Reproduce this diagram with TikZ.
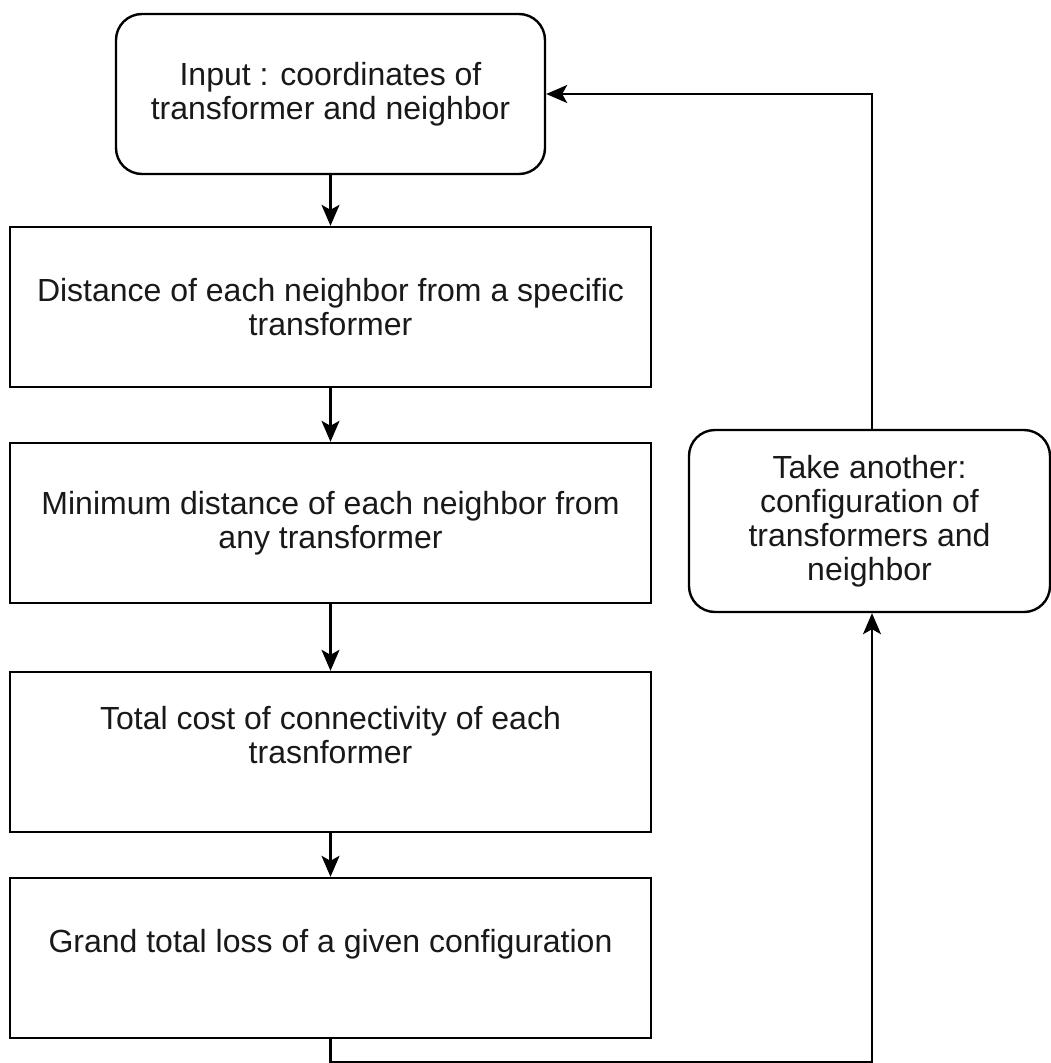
\documentclass[tikz,border=0pt]{standalone}
\usepackage{fontspec}
\setmainfont{Liberation Sans}
\usetikzlibrary{arrows.meta}
\begin{document}
\begin{tikzpicture}[x=1pt,y=-1pt,
  box/.style={draw, line width=2.4pt, align=center, text=black!90,
    font=\fontsize{32}{34}\selectfont, inner sep=0pt,
    minimum width=641pt, minimum height=160pt},
  rbox/.style={box, rounded corners=26pt},
  conn/.style={line width=2.2pt, -{Stealth[length=21pt,width=18pt,inset=5pt]}}]
\useasboundingbox[fill=white] (0,0) rectangle (1051,1063);
\node[rbox, minimum width=429pt, minimum height=160pt] (inp) at (330.5,94)
  {Input : coordinates of\\transformer and neighbor};
\node[box] (dist) at (330.5,307)
  {Distance of each neighbor from a specific\\transformer};
\node[box] (mind) at (330.5,523)
  {Minimum distance of each neighbor from\\any transformer};
\node[box] (cost) at (330.5,752)
  {Total cost of connectivity of each\\trasnformer\\\mbox{}};
\node[box] (loss) at (330.5,958)
  {Grand total loss of a given configuration\\\mbox{}};
\node[rbox, minimum width=361pt, minimum height=182pt] (take) at (869.5,521)
  {Take another:\\configuration of\\transformers and\\neighbor};
\coordinate (cr) at (872,1062);
\draw[conn] (inp.south) -- (dist.north);
\draw[conn] (dist.south) -- (mind.north);
\draw[conn] (mind.south) -- (cost.north);
\draw[conn] (cost.south) -- (loss.north);
\draw[conn] (loss.south) |- (cr) -- (cr |- take.south);
\draw[conn] (cr |- take.north) |- (inp.east);
\end{tikzpicture}
\end{document}
